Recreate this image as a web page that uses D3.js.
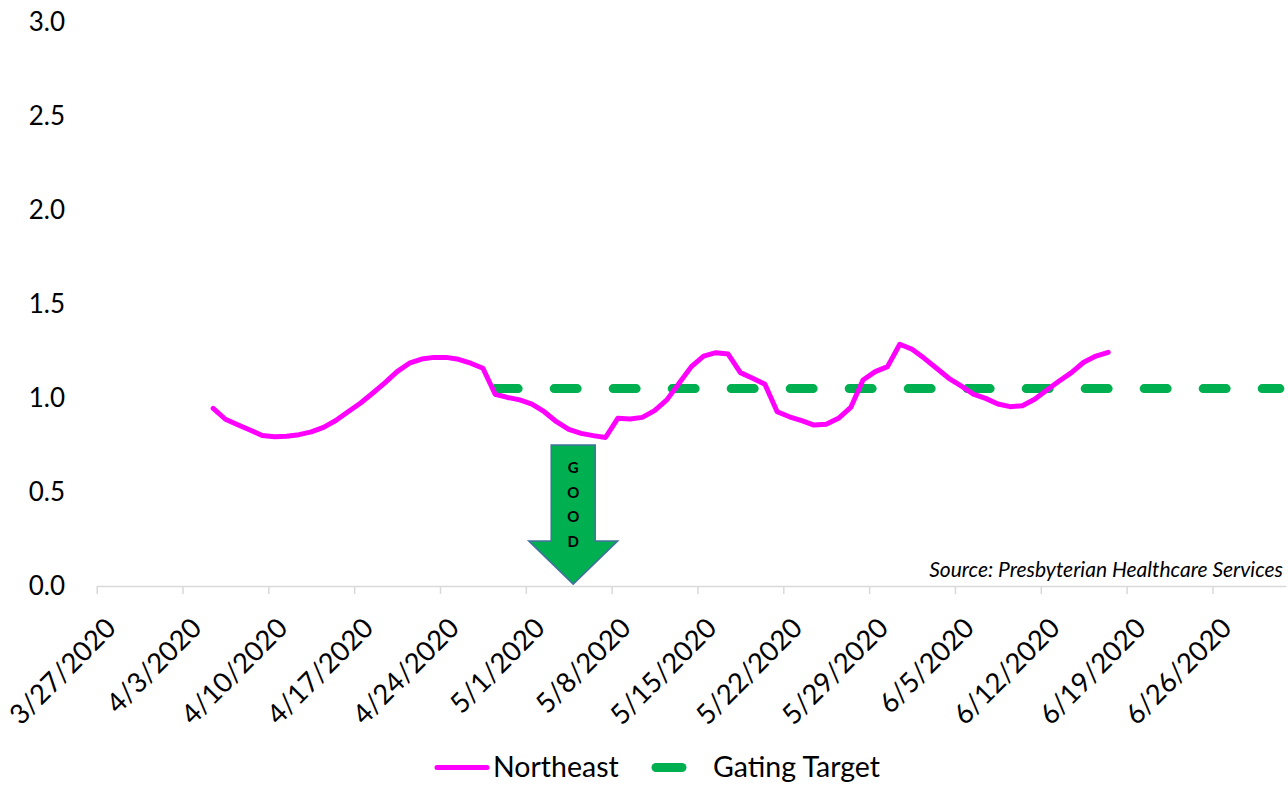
<!DOCTYPE html>
<html>
<head>
<meta charset="utf-8">
<script src="https://cdn.jsdelivr.net/npm/d3@7"></script>
<style>
    body{margin:0;background:#fff;}
    text{font-family:Lato,"Open Sans",sans-serif;fill:#000;}
</style>
</head>
<body>
<div class="chart"></div>
<script>
// daily values, first one is 4/5/2020
var firstDay="4/5/2020";
var northeast=[0.945,0.887,0.858,0.83,0.80,0.794,0.797,0.805,0.82,0.844,
    0.88,0.927,0.972,1.025,1.08,1.14,1.185,1.207,1.216,1.216,
    1.206,1.185,1.158,1.02,1.003,0.99,0.968,0.927,0.874,0.833,
    0.812,0.80,0.79,0.892,0.888,0.897,0.933,0.99,1.078,1.167,
    1.223,1.241,1.234,1.135,1.105,1.073,0.927,0.90,0.88,0.856,
    0.86,0.892,0.95,1.096,1.14,1.167,1.286,1.259,1.211,1.158,
    1.105,1.064,1.021,0.998,0.968,0.954,0.959,0.993,1.043,1.09,
    1.135,1.19,1.223,1.243];
var gatingDays=["4/28/2020","7/1/2020"];
var gatingValues=[1.05,1.05];
var tickLabels=["3/27/2020","4/3/2020","4/10/2020","4/17/2020","4/24/2020","5/1/2020",
    "5/8/2020","5/15/2020","5/22/2020","5/29/2020","6/5/2020","6/12/2020","6/19/2020","6/26/2020"];
var yTicks=[0,0.5,1,1.5,2,2.5,3];
var seriesNames=["Northeast","Gating Target"];

var parse=d3.timeParse("%m/%d/%Y");
var width=1288, height=785;
var plotLeft=96.7, plotRight=1286, plotTop=22, plotBottom=586;

var svg=d3.select('.chart').append('svg')
    .attr('width',width)
    .attr('height',height);

var x=d3.scaleTime()
    .domain([parse("3/27/2020"),parse("7/2/2020")])
    .range([plotLeft,plotRight]);
var y=d3.scaleLinear()
    .domain([0,3])
    .range([plotBottom,plotTop]);

// points sit in the middle of their day
function mid(d){ return x(d3.timeHour.offset(d,12)); }

var start=parse(firstDay);
var neData=northeast.map(function(v,i){
    return {date:d3.timeDay.offset(start,i),value:v};
});
var gateData=gatingDays.map(function(s,i){
    return {date:parse(s),value:gatingValues[i]};
});

// y labels
svg.append('g').selectAll('text').data(yTicks)
    .enter().append('text')
        .attr('x',65)
        .attr('y',function(d){return y(d);})
        .attr('dy','0.35em')
        .attr('text-anchor','end')
        .style('font-size','26px')
        .text(function(d){return d3.format(".1f")(d);});

// x axis
var xAxis=d3.axisBottom(x)
    .tickValues(tickLabels.map(parse))
    .tickSize(8)
    .tickSizeOuter(0)
    .tickFormat("");
var gx=svg.append('g')
    .attr('transform','translate(0,'+plotBottom+')')
    .call(xAxis);
gx.select('.domain').attr('stroke','#d9d9d9').attr('stroke-width',1.5);
gx.selectAll('.tick line').attr('stroke','#d9d9d9').attr('stroke-width',1.5);

svg.append('g').selectAll('text').data(tickLabels)
    .enter().append('text')
        .attr('transform',function(d){
            return 'translate('+(x(parse(d))+14)+',623) rotate(-45)';
        })
        .attr('dy','0.35em')
        .attr('text-anchor','end')
        .style('font-size','27.5px')
        .text(function(d){return d;});

// good arrow
var ax=x(parse("5/4/2020"))+10.6;
var arrowTop=y(0.75), arrowNeck=y(0.24), arrowTip=y(0.01);
svg.append('path')
    .attr('d','M'+(ax-22)+','+arrowTop+'H'+(ax+22)+'V'+arrowNeck+'H'+(ax+44.5)
        +'L'+ax+','+arrowTip+'L'+(ax-44.5)+','+arrowNeck+'H'+(ax-22)+'Z')
    .attr('fill','#00b050')
    .attr('stroke','#41719c')
    .attr('stroke-width',1.5);
svg.append('g').selectAll('text').data(["G","O","O","D"])
    .enter().append('text')
        .attr('x',ax)
        .attr('y',function(d,i){return arrowTop+23+i*24.5;})
        .attr('dy','0.35em')
        .attr('text-anchor','middle')
        .style('font-size','15px')
        .style('font-weight','bold')
        .text(function(d){return d;});

// series
var line=d3.line()
    .x(function(d){return mid(d.date);})
    .y(function(d){return y(d.value);});

svg.append('path')
    .datum(gateData)
    .attr('d',line)
    .attr('fill','none')
    .attr('stroke','#00b050')
    .attr('stroke-width',9)
    .attr('stroke-linecap','round')
    .attr('stroke-dasharray','23,36');

svg.append('path')
    .datum(neData)
    .attr('d',line)
    .attr('fill','none')
    .attr('stroke','#ff00ff')
    .attr('stroke-width',5)
    .attr('stroke-linejoin','round')
    .attr('stroke-linecap','round');

svg.append('text')
    .attr('x',1283)
    .attr('y',577)
    .attr('text-anchor','end')
    .style('font-size','21px')
    .style('font-style','italic')
    .text("Source: Presbyterian Healthcare Services");

// legend
var legend=svg.append('g');
legend.append('line')
    .attr('x1',437).attr('x2',487)
    .attr('y1',767.5).attr('y2',767.5)
    .attr('stroke','#ff00ff')
    .attr('stroke-width',5)
    .attr('stroke-linecap','round');
legend.append('text')
    .attr('x',493).attr('y',777)
    .style('font-size','28.5px')
    .text(seriesNames[0]);
legend.append('line')
    .attr('x1',656).attr('x2',682)
    .attr('y1',767.5).attr('y2',767.5)
    .attr('stroke','#00b050')
    .attr('stroke-width',9)
    .attr('stroke-linecap','round');
legend.append('text')
    .attr('x',713).attr('y',777)
    .style('font-size','28.5px')
    .text(seriesNames[1]);
</script>
</body>
</html>
